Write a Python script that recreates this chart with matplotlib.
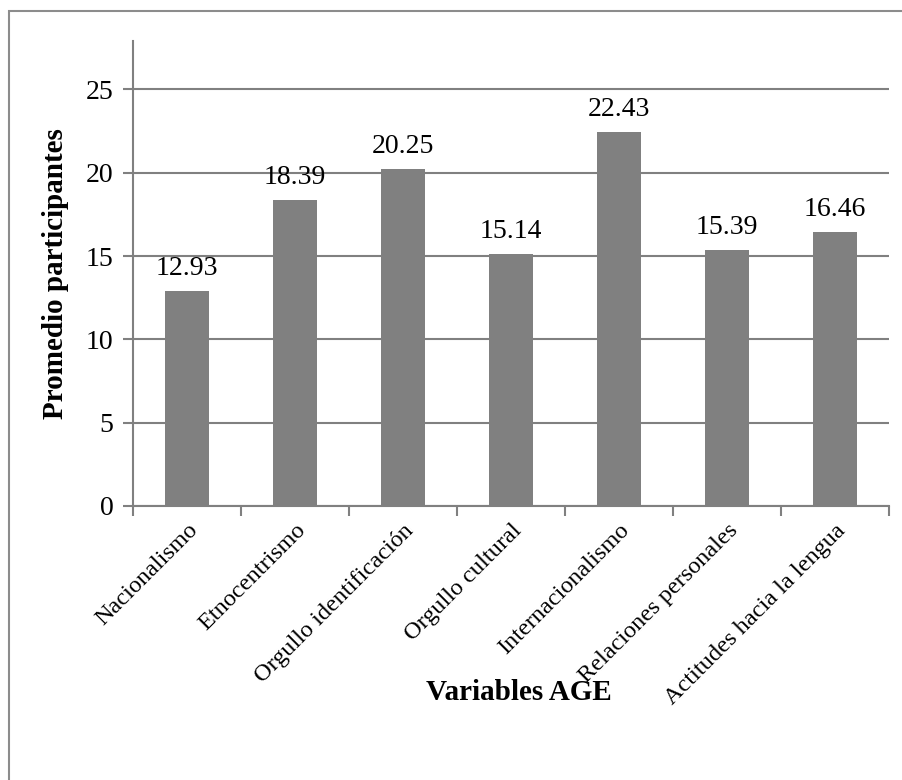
import matplotlib.pyplot as plt
from matplotlib.patches import Rectangle

categories = ["Nacionalismo", "Etnocentrismo", "Orgullo identificación", "Orgullo cultural",
              "Internacionalismo", "Relaciones personales", "Actitudes hacia la lengua"]
values = [12.93, 18.39, 20.25, 15.14, 22.43, 15.39, 16.46]
y_ticks = [0, 5, 10, 15, 20, 25]

plt.rcParams['font.family'] = ['Liberation Serif', 'DejaVu Serif']
gray = "#808080"

fig = plt.figure(figsize=(9.03, 7.8), dpi=100)
ax = fig.add_axes([0.1473, 0.3513, 0.9845 - 0.1473, 0.9474 - 0.3513])

# outer frame, cut off at right and bottom like the reference
fig.patches.append(Rectangle((9 / 903, -0.05), 1.1, 1 - 11 / 780 + 0.05, transform=fig.transFigure,
                             fill=False, edgecolor="#8c8c8c", linewidth=1.5))

x = list(range(len(categories)))
ax.bar(x, values, width=0.4, color=gray, zorder=3)
for xi, v in zip(x, values):
    ax.annotate(f"{v:.2f}", (xi, v), xytext=(0, 7), textcoords="offset points",
                ha="center", va="bottom", fontsize=20)

ax.set_xlim(-0.5, len(categories) - 0.5)
ax.set_ylim(0, 27.9)
ax.set_yticks(y_ticks)
ax.yaxis.grid(True, color=gray, linewidth=1.5, zorder=0)
ax.tick_params(axis="y", labelsize=20, length=7, width=1.5, color=gray, pad=7)

# ticks on category boundaries, labels in centers
ax.set_xticks([i - 0.5 for i in range(len(categories) + 1)])
ax.set_xticklabels([])
ax.set_xticks(x, minor=True)
ax.set_xticklabels(categories, minor=True, rotation=45, ha="right", rotation_mode="anchor", fontsize=17.5)
ax.tick_params(axis="x", which="major", length=7, width=1.5, color=gray)
ax.tick_params(axis="x", which="minor", length=0, pad=10)

for s in ["top", "right"]:
    ax.spines[s].set_visible(False)
for s in ["left", "bottom"]:
    ax.spines[s].set_color(gray)
    ax.spines[s].set_linewidth(1.5)

ax.set_ylabel("Promedio participantes", fontsize=21, fontweight="bold", labelpad=12)
fig.text(0.575, 0.112, "Variables AGE", fontsize=21, fontweight="bold", ha="center", va="center")

fig.savefig("out.png", dpi=100)
